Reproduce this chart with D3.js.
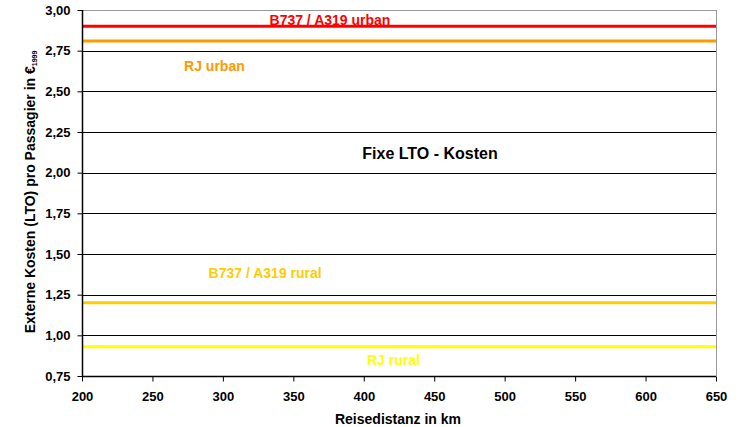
<!DOCTYPE html>
<html><head><meta charset="utf-8">
<script src="https://cdn.jsdelivr.net/npm/d3@7"></script>
<style>body{margin:0;background:#fff}svg{display:block;font-family:"Liberation Sans",Arial,sans-serif;font-weight:bold}</style>
</head><body><svg id="c" width="740" height="427"></svg>
<script>
const xDomain = [200, 650];
const yDomain = [0.75, 3.0];
const xTicks = [200, 250, 300, 350, 400, 450, 500, 550, 600, 650];
const yTicks = [0.75, 1.0, 1.25, 1.5, 1.75, 2.0, 2.25, 2.5, 2.75, 3.0];
const seriesNames = ["B737 / A319 urban", "RJ urban", "B737 / A319 rural", "RJ rural"];
const seriesValues = [2.90, 2.81, 1.20, 0.93];
const seriesColors = ["#ff0000", "#ff9900", "#ffcc00", "#ffff00"];
const distances = [200, 650];
// label anchor positions in data units
const labelX = [376, 294, 330, 421];
const labelY = [2.908, 2.625, 1.352, 0.818];

const svg = d3.select("#c");
const m = {l:82, r:716, t:10, b:376};
const x = d3.scaleLinear().domain(xDomain).range([m.l, m.r]);
const y = d3.scaleLinear().domain(yDomain).range([m.b, m.t]);

// gridlines
svg.append("g").selectAll("line").data(yTicks.slice(1, -1)).join("line")
  .attr("x1", m.l).attr("x2", m.r).attr("y1", d=>Math.round(y(d))+0.5).attr("y2", d=>Math.round(y(d))+0.5)
  .attr("stroke", "#000").attr("stroke-width", 1);
// top & right border
svg.append("line").attr("x1", m.l).attr("x2", m.r).attr("y1", m.t+0.5).attr("y2", m.t+0.5).attr("stroke", "#999");
svg.append("line").attr("x1", m.r+0.5).attr("x2", m.r+0.5).attr("y1", m.t).attr("y2", m.b).attr("stroke", "#999");

// series lines
const line = d3.line().x(d=>x(d[0])).y(d=>y(d[1]));
seriesValues.forEach((v,i)=>{
  svg.append("path").datum(distances.map(d=>[d, v])).attr("d", line)
    .attr("fill","none").attr("stroke", seriesColors[i]).attr("stroke-width", 3);
});

// axes
const xAxis = svg.append("g").attr("transform", `translate(0,${m.b+0.5})`)
  .call(d3.axisBottom(x).tickValues(xTicks).tickSize(5).tickPadding(10).tickFormat(d3.format("d")));
const fmt = d => d.toFixed(2).replace(".", ",");
const yAxis = svg.append("g").attr("transform", `translate(${m.l+0.5},0)`)
  .call(d3.axisLeft(y).tickValues(yTicks).tickSize(5).tickPadding(7).tickFormat(fmt));
[xAxis, yAxis].forEach(a=>{
  a.select(".domain").attr("stroke","#000").attr("stroke-width",1.5);
  a.selectAll(".tick line").attr("stroke","#000");
  a.selectAll("text").attr("font-size", 13).attr("font-weight","bold").attr("font-family","Liberation Sans, Arial, sans-serif").attr("fill","#000");
});
xAxis.select(".domain").attr("d", `M${m.l},0H${m.r}`);
yAxis.select(".domain").attr("d", `M0,${m.t}V${m.b}`);

// series labels
seriesNames.forEach((n,i)=>{
  svg.append("text").attr("x", x(labelX[i])).attr("y", y(labelY[i]))
    .attr("text-anchor","middle").attr("font-size",14).attr("fill", seriesColors[i]).text(n);
});
svg.append("text").attr("x", 430).attr("y", 159).attr("text-anchor","middle")
  .attr("font-size",16).attr("fill","#000").text("Fixe LTO - Kosten");

// axis titles
svg.append("text").attr("x", 398).attr("y", 424).attr("text-anchor","middle")
  .attr("font-size",14).text("Reisedistanz in km");
const yt = svg.append("text").attr("transform","translate(35,192) rotate(-90)").attr("text-anchor","middle")
  .attr("font-size",14);
yt.append("tspan").text("Externe Kosten (LTO) pro Passagier in €");
yt.append("tspan").attr("font-size",7).attr("dy",2).text("1999");
</script></body></html>
